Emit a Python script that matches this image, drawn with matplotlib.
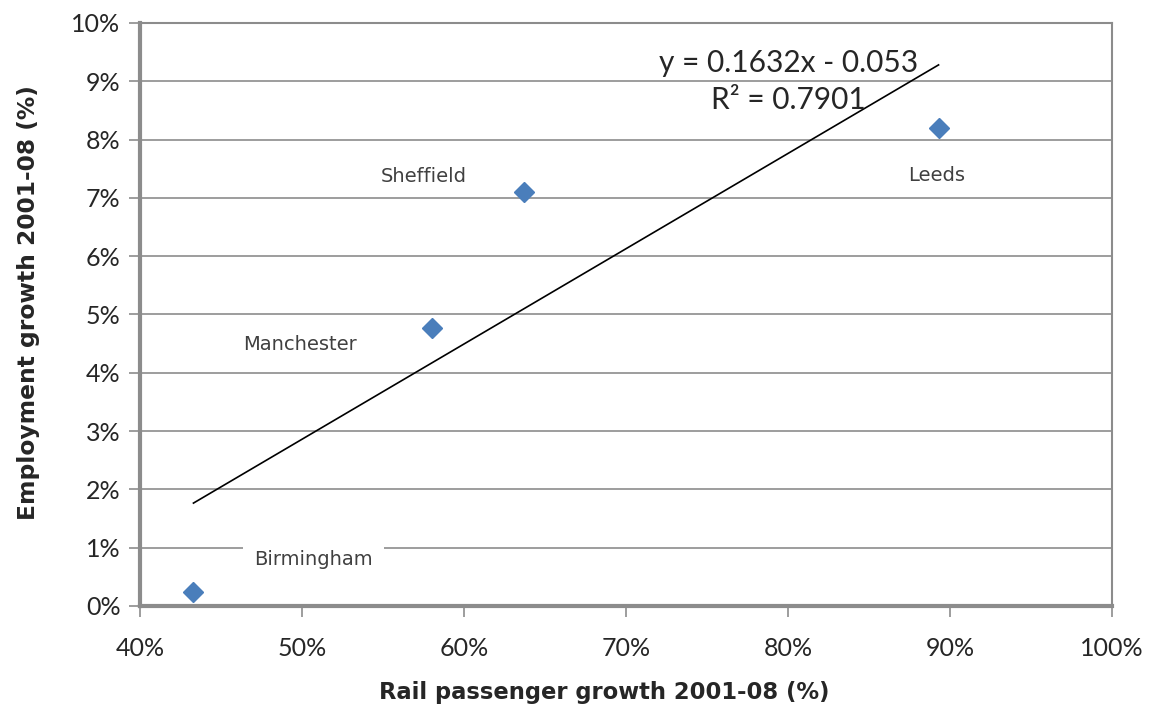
import numpy as np
import matplotlib.pyplot as plt
from matplotlib.ticker import FuncFormatter, MultipleLocator

# city data (fractions)
cities = ['Birmingham', 'Manchester', 'Sheffield', 'Leeds']
rail_growth = [0.433, 0.580, 0.637, 0.893]
emp_growth = [0.0024, 0.0477, 0.0710, 0.0820]

# label positions (data coords)
label_x = [0.507, 0.499, 0.575, 0.892]
label_y = [0.0079, 0.0449, 0.0736, 0.0738]

# trendline text as printed on the chart
eq_text = 'y = 0.1632x - 0.053'
r2_text = 'R² = 0.7901'

plt.rcParams['font.family'] = ['Lato', 'DejaVu Sans']

fig = plt.figure(figsize=(11.57, 7.11), dpi=100)
ax = fig.add_axes([0.121, 0.1477, 0.840, 0.820])

ax.set_xlim(0.4, 1.0)
ax.set_ylim(0.0, 0.10)
ax.xaxis.set_major_locator(MultipleLocator(0.1))
ax.yaxis.set_major_locator(MultipleLocator(0.01))
pct = FuncFormatter(lambda v, p: '%d%%' % round(v * 100))
ax.xaxis.set_major_formatter(pct)
ax.yaxis.set_major_formatter(pct)

ax.grid(axis='y', color='#8c8c8c', lw=1.2, zorder=0)
ax.set_axisbelow(True)

for s in ['left', 'bottom']:
    ax.spines[s].set_color('#8c8c8c')
    ax.spines[s].set_linewidth(3)
for s in ['top', 'right']:
    ax.spines[s].set_color('#8c8c8c')
    ax.spines[s].set_linewidth(1.5)

ax.tick_params(axis='both', which='major', labelsize=18, colors='#8c8c8c',
               labelcolor='#262626', length=8, width=1.2, direction='out')
ax.tick_params(axis='x', pad=14)
ax.tick_params(axis='y', pad=6)

# fitted trend line
slope, icpt = np.polyfit(rail_growth, emp_growth, 1)
xl = np.array([min(rail_growth), max(rail_growth)])
ax.plot(xl, slope * xl + icpt, color='black', lw=1.2, zorder=3)

ax.plot(rail_growth, emp_growth, linestyle='none', marker='D', ms=10,
        color='#4a7ebb', zorder=4, clip_on=False)

for i, name in enumerate(cities):
    kw = {}
    if name == 'Birmingham':
        kw['bbox'] = dict(facecolor='white', edgecolor='none', pad=8)
    ax.text(label_x[i], label_y[i], name, fontsize=14, color='#404040',
            family='DejaVu Sans', ha='center', va='center', zorder=5, **kw)

ax.text(0.8006, 0.0931, eq_text, fontsize=21.5,
        color='#262626', ha='center', va='center', zorder=5)
ax.text(0.800, 0.0868, r2_text, fontsize=21.5,
        color='#262626', ha='center', va='center', zorder=5)

ax.set_xlabel('Rail passenger growth 2001-08 (%)', fontsize=16.3,
              family='DejaVu Sans', fontweight='bold', color='#262626', labelpad=16)
ax.set_ylabel('Employment growth 2001-08 (%)', fontsize=16.8,
              family='DejaVu Sans', fontweight='bold', color='#262626', labelpad=24)
ax.xaxis.set_label_coords(0.478, -0.128)
ax.yaxis.set_label_coords(-0.103, 0.52)

fig.savefig('out.png', dpi=100)
